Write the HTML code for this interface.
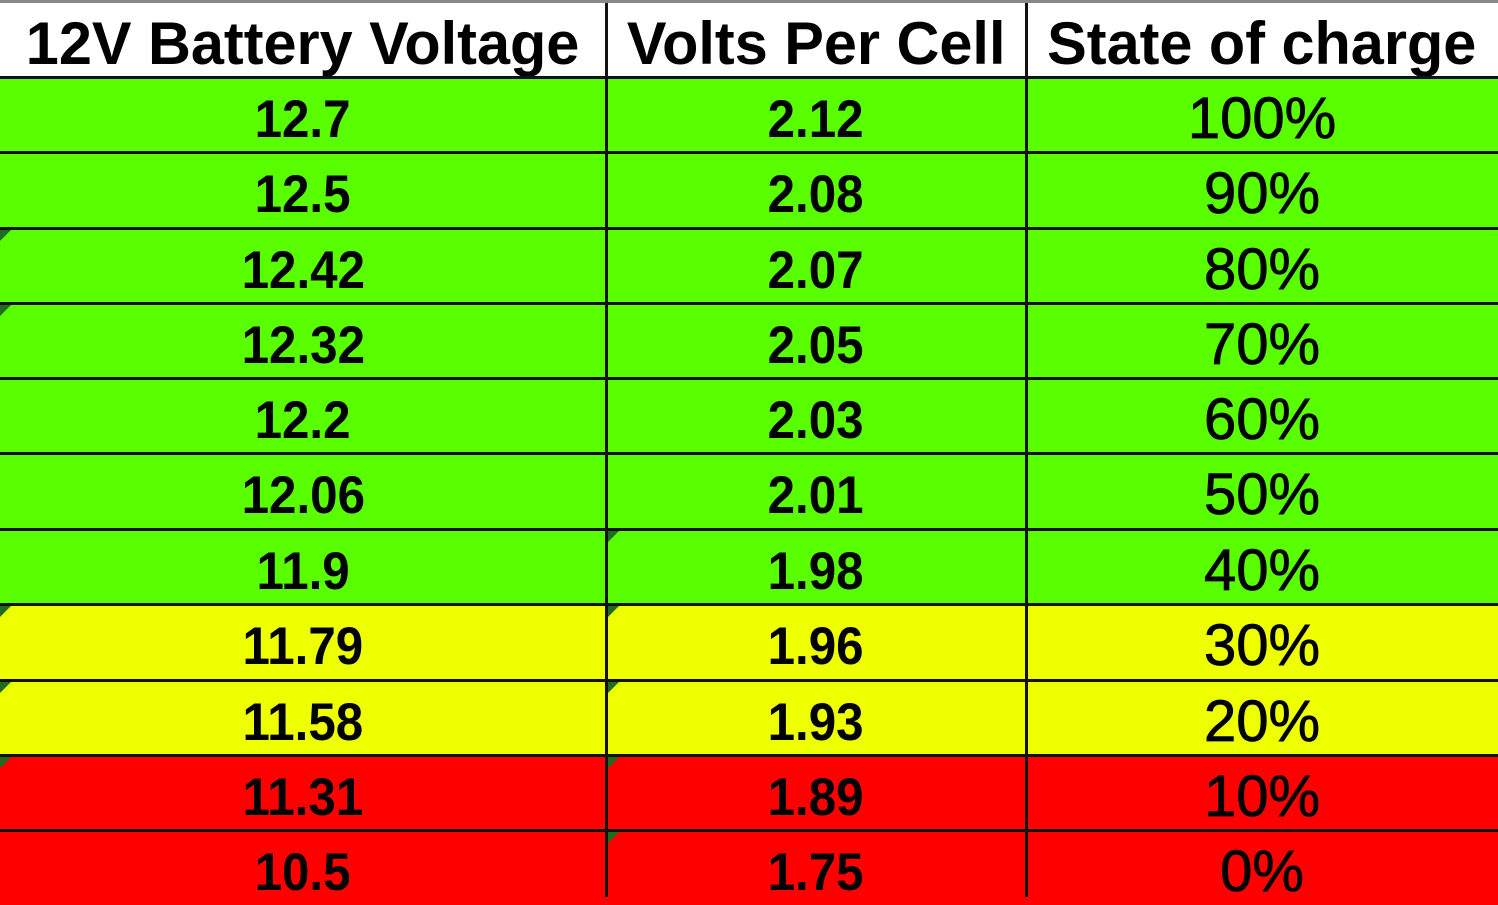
<!DOCTYPE html>
<html><head><meta charset="utf-8"><style>
html,body{margin:0;padding:0;width:1498px;height:897px;overflow:hidden;background:#fff;}
.c{position:absolute;box-sizing:border-box;display:flex;align-items:center;justify-content:center;font-family:"Liberation Sans",Arial,sans-serif;color:#000;overflow:hidden;}
.h{font-size:60px;top:3px;height:74px;background:#fff;padding-top:6px;font-weight:bold;}
.h span{display:inline-block;transform:scaleX(0.99);}
.n{font-size:53px;font-weight:bold;padding-top:9px;}
.n span{display:inline-block;transform:scaleX(0.93);}
.p{font-size:58px;padding-top:7px;-webkit-text-stroke:0.8px #000;}
.g{background:#59ff00}.y{background:#eeff00}.r{background:#ff0000}
.hl{position:absolute;left:0;width:1498px;height:3px;background:#111;}
.vl{position:absolute;top:3px;width:3px;height:894px;background:#111;}
.t{position:absolute;width:0;height:0;border-top:11px solid #1f6b1f;border-right:11px solid transparent;}
</style></head><body>
<div style="position:absolute;left:0;top:0;width:1498px;height:3px;background:#888"></div>
<div class="c h" style="left:0;width:606px"><span>12V Battery Voltage</span></div>
<div class="c h" style="left:606px;width:420px"><span>Volts Per Cell</span></div>
<div class="c h" style="left:1026px;width:472px"><span>State of charge</span></div>

<div class="c n g" style="left:0;width:606px;top:77px;height:75px"><span>12.7</span></div>
<div class="c n g" style="left:606px;width:420px;top:77px;height:75px"><span>2.12</span></div>
<div class="c p g" style="left:1026px;width:472px;top:77px;height:75px">100%</div>

<div class="c n g" style="left:0;width:606px;top:152px;height:76px"><span>12.5</span></div>
<div class="c n g" style="left:606px;width:420px;top:152px;height:76px"><span>2.08</span></div>
<div class="c p g" style="left:1026px;width:472px;top:152px;height:76px">90%</div>

<div class="c n g" style="left:0;width:606px;top:228px;height:75px"><span>12.42</span></div>
<div class="c n g" style="left:606px;width:420px;top:228px;height:75px"><span>2.07</span></div>
<div class="c p g" style="left:1026px;width:472px;top:228px;height:75px">80%</div>

<div class="c n g" style="left:0;width:606px;top:303px;height:75px"><span>12.32</span></div>
<div class="c n g" style="left:606px;width:420px;top:303px;height:75px"><span>2.05</span></div>
<div class="c p g" style="left:1026px;width:472px;top:303px;height:75px">70%</div>

<div class="c n g" style="left:0;width:606px;top:378px;height:75px"><span>12.2</span></div>
<div class="c n g" style="left:606px;width:420px;top:378px;height:75px"><span>2.03</span></div>
<div class="c p g" style="left:1026px;width:472px;top:378px;height:75px">60%</div>

<div class="c n g" style="left:0;width:606px;top:453px;height:76px"><span>12.06</span></div>
<div class="c n g" style="left:606px;width:420px;top:453px;height:76px"><span>2.01</span></div>
<div class="c p g" style="left:1026px;width:472px;top:453px;height:76px">50%</div>

<div class="c n g" style="left:0;width:606px;top:529px;height:75px"><span>11.9</span></div>
<div class="c n g" style="left:606px;width:420px;top:529px;height:75px"><span>1.98</span></div>
<div class="c p g" style="left:1026px;width:472px;top:529px;height:75px">40%</div>

<div class="c n y" style="left:0;width:606px;top:604px;height:76px"><span>11.79</span></div>
<div class="c n y" style="left:606px;width:420px;top:604px;height:76px"><span>1.96</span></div>
<div class="c p y" style="left:1026px;width:472px;top:604px;height:76px">30%</div>

<div class="c n y" style="left:0;width:606px;top:680px;height:75px"><span>11.58</span></div>
<div class="c n y" style="left:606px;width:420px;top:680px;height:75px"><span>1.93</span></div>
<div class="c p y" style="left:1026px;width:472px;top:680px;height:75px">20%</div>

<div class="c n r" style="left:0;width:606px;top:755px;height:75px"><span>11.31</span></div>
<div class="c n r" style="left:606px;width:420px;top:755px;height:75px"><span>1.89</span></div>
<div class="c p r" style="left:1026px;width:472px;top:755px;height:75px">10%</div>

<div class="c n r" style="left:0;width:606px;top:830px;height:75px"><span>10.5</span></div>
<div class="c n r" style="left:606px;width:420px;top:830px;height:75px"><span>1.75</span></div>
<div class="c p r" style="left:1026px;width:472px;top:830px;height:75px">0%</div>

<div class="hl" style="top:76px"></div>
<div class="hl" style="top:151px"></div>
<div class="hl" style="top:227px"></div>
<div class="hl" style="top:302px"></div>
<div class="hl" style="top:377px"></div>
<div class="hl" style="top:452px"></div>
<div class="hl" style="top:528px"></div>
<div class="hl" style="top:603px"></div>
<div class="hl" style="top:679px"></div>
<div class="hl" style="top:754px"></div>
<div class="hl" style="top:829px"></div>
<div class="vl" style="left:605px"></div>
<div class="vl" style="left:1025px"></div>

<div class="t" style="left:0;top:230px"></div>
<div class="t" style="left:0;top:305px"></div>
<div class="t" style="left:0;top:606px"></div>
<div class="t" style="left:0;top:682px"></div>
<div class="t" style="left:0;top:757px"></div>
<div class="t" style="left:608px;top:531px"></div>
<div class="t" style="left:608px;top:606px"></div>
<div class="t" style="left:608px;top:682px"></div>
<div class="t" style="left:608px;top:757px"></div>
<div class="t" style="left:608px;top:832px"></div>
</body></html>
